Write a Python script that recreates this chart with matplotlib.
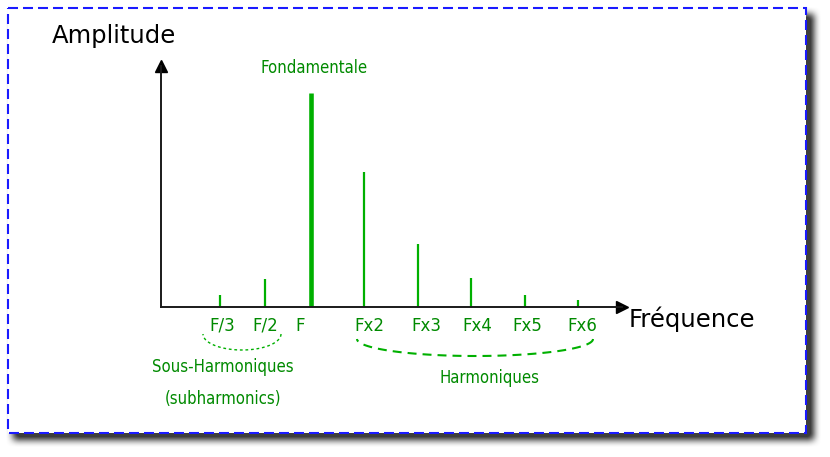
import numpy as np
import matplotlib
matplotlib.use('Agg')
from matplotlib import pyplot as plt
from matplotlib import font_manager
from matplotlib.patches import Rectangle

# Spectrum data (amplitudes in arbitrary units)
labels = ['F/3', 'F/2', 'F', 'Fx2', 'Fx3', 'Fx4', 'Fx5', 'Fx6']
amplitudes = [12, 28.5, 214.5, 135, 63, 29, 12, 7.5]
sub_labels = ['Sous-Harmoniques', '(subharmonics)']
harm_label = 'Harmoniques'
fund_label = 'Fondamentale'

GREEN_TXT = '#008a00'
GREEN_BAR = '#00b000'
W, H = 830, 457


def box_blur(a, r):
    """Separable box blur, radius r"""
    k = np.ones(2 * r + 1) / (2 * r + 1)
    a = np.apply_along_axis(lambda m: np.convolve(m, k, mode='same'), 0, a)
    a = np.apply_along_axis(lambda m: np.convolve(m, k, mode='same'), 1, a)
    return a


# Pick narrow fonts for the green annotations
entries = font_manager.fontManager.ttflist
names = {f.name for f in entries}
condensed = dict(family='DejaVu Sans', fontstretch='condensed')
if 'Liberation Sans Narrow' in names:
    narrow, narrow_size = dict(family='Liberation Sans Narrow'), 14
else:
    narrow, narrow_size = condensed, 12

fig = plt.figure(figsize=(W / 100, H / 100), dpi=100)
fig.patch.set_facecolor('white')

# Background layer in pixel coordinates
bg = fig.add_axes([0, 0, 1, 1])
bg.set_xlim(0, W)
bg.set_ylim(H, 0)
bg.axis('off')

# Drop shadow behind the frame
mask = np.zeros((H, W))
mask[14:440, 13:814] = 1.0
mask = box_blur(box_blur(mask, 4), 3)
shadow = np.zeros((H, W, 4))
shadow[..., :3] = 0.18
shadow[..., 3] = np.clip(mask * 1.1, 0, 0.92)
bg.imshow(shadow, extent=(0, W, H, 0), origin='upper', zorder=0)

# Dashed blue frame
bg.add_patch(Rectangle((8, 8), 798, 425, facecolor='white', edgecolor='#1a1aff',
                       lw=1.5, linestyle=(0, (4.8, 2.4)), zorder=1))

# Axis titles
bg.text(114, 43, 'Amplitude', fontsize=17.5, ha='center', va='baseline', zorder=3)
bg.text(629, 327, 'Fréquence', fontsize=17.5, ha='left', va='baseline', zorder=3)

# Frequency tick labels
label_x = [222.5, 265.3, 300, 369.3, 426, 477.5, 527, 582]
for x, lab in zip(label_x, labels):
    bg.text(x, 331, lab, fontsize=12, color=GREEN_TXT, ha='center', va='baseline', zorder=3)

# Annotations
bg.text(313.7, 73.3, fund_label, fontsize=12, color=GREEN_TXT, ha='center',
        va='baseline', zorder=3, **condensed)
bg.text(223.3, 372, sub_labels[0], fontsize=narrow_size, color=GREEN_TXT, ha='center',
        va='baseline', zorder=3, **narrow)
bg.text(223.3, 404, sub_labels[1], fontsize=narrow_size, color=GREEN_TXT, ha='center',
        va='baseline', zorder=3, **narrow)
bg.text(489.7, 383, harm_label, fontsize=narrow_size, color=GREEN_TXT, ha='center',
        va='baseline', zorder=3, **narrow)

# Curly brackets under the tick labels (half ellipses)
t = np.linspace(0, np.pi, 80)
bg.plot(242 + 39 * np.cos(t), 334 + 16 * np.sin(t), color=GREEN_BAR, lw=1,
        linestyle=(0, (2, 2)), zorder=3)
bg.plot(475 + 118 * np.cos(t), 339 + 17 * np.sin(t), color=GREEN_BAR, lw=1.5,
        linestyle=(0, (4.3, 2.9)), zorder=3)

# Spectrum axes (origin at pixel 161, 307)
x0, y0, x1, y1 = 161, 307, 622, 66
ax = fig.add_axes([x0 / W, (H - y0) / H, (x1 - x0) / W, (y0 - y1) / H])
ax.patch.set_alpha(0)
ax.set_xlim(0, x1 - x0)
ax.set_ylim(0, y0 - y1)
for side in ['top', 'right']:
    ax.spines[side].set_visible(False)
for side in ['left', 'bottom']:
    ax.spines[side].set_linewidth(1.4)
    ax.spines[side].set_color('#1a1a1a')
ax.set_xticks([])
ax.set_yticks([])
ax.plot(1, 0, '>', color='black', markersize=8, transform=ax.transAxes, clip_on=False)
ax.plot(0, 1, '^', color='black', markersize=8, transform=ax.transAxes, clip_on=False)

# Bar positions: sub-harmonics spaced 45.4, harmonics spaced 53.5
fund_idx = labels.index('F')
idx = np.arange(len(labels))
bar_x = np.where(idx <= fund_idx, 149.7 - 45.4 * (fund_idx - idx), 149.7 + 53.5 * (idx - fund_idx))
widths = [3.3 if i == fund_idx else 1.6 for i in idx]
ax.vlines(bar_x, 0, amplitudes, colors=GREEN_BAR, linewidths=widths, zorder=2)

fig.savefig('out.png', dpi=100, facecolor='white')
